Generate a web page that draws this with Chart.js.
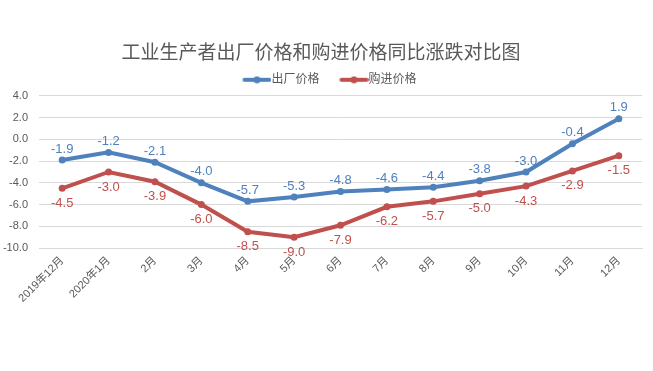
<!DOCTYPE html>
<html>
<head>
<meta charset="utf-8">
<script src="https://cdn.jsdelivr.net/npm/chart.js@4"></script>
<style>
  html, body { margin: 0; padding: 0; background: #fff; }
  #wrap { width: 653px; height: 371px; }
</style>
</head>
<body>
<div id="wrap"><canvas id="chart"></canvas></div>
<script>
const months = ['2019年12月', '2020年1月', '2月', '3月', '4月', '5月', '6月', '7月', '8月', '9月', '10月', '11月', '12月'];
const factoryPrice = [-1.9, -1.2, -2.1, -4.0, -5.7, -5.3, -4.8, -4.6, -4.4, -3.8, -3.0, -0.4, 1.9];
const purchasePrice = [-4.5, -3.0, -3.9, -6.0, -8.5, -9.0, -7.9, -6.2, -5.7, -5.0, -4.3, -2.9, -1.5];

const FONT = "'Liberation Sans', 'Noto Sans CJK SC', sans-serif";
const BLUE = '#4F81BD';
const RED = '#C0504D';

// legend swatch: line+dot pushed to the right so it sits against the text,
// the empty left part gives the gap between the two legend items
function swatch(color) {
  const c = document.createElement('canvas');
  c.width = 52; c.height = 8;
  const g = c.getContext('2d');
  g.strokeStyle = color; g.lineWidth = 4; g.lineCap = 'round';
  g.beginPath(); g.moveTo(25, 4); g.lineTo(50, 4); g.stroke();
  g.fillStyle = color;
  g.beginPath(); g.arc(37.5, 4, 3.5, 0, Math.PI * 2); g.fill();
  return c;
}

const valueLabels = {
  id: 'valueLabels',
  afterDatasetsDraw(chart) {
    const ctx = chart.ctx;
    ctx.save();
    ctx.font = '13px ' + FONT;
    ctx.textAlign = 'center';
    ctx.textBaseline = 'middle';
    chart.data.datasets.forEach((ds, i) => {
      const meta = chart.getDatasetMeta(i);
      ctx.fillStyle = ds.borderColor;
      meta.data.forEach((pt, j) => {
        const dy = i === 0 ? -11 : 15;
        ctx.fillText(ds.data[j].toFixed(1), pt.x, pt.y + dy);
      });
    });
    ctx.restore();
  }
};

new Chart(document.getElementById('chart'), {
  type: 'line',
  data: {
    labels: months,
    datasets: [
      {
        label: '出厂价格',
        data: factoryPrice,
        borderColor: BLUE,
        backgroundColor: BLUE,
        borderWidth: 4,
        pointRadius: 3.5,
        pointBorderWidth: 0,
        pointHoverRadius: 3.5,
        pointStyle: 'circle',
        tension: 0
      },
      {
        label: '购进价格',
        data: purchasePrice,
        borderColor: RED,
        backgroundColor: RED,
        borderWidth: 4,
        pointRadius: 3.5,
        pointBorderWidth: 0,
        pointHoverRadius: 3.5,
        pointStyle: 'circle',
        tension: 0
      }
    ]
  },
  options: {
    responsive: true,
    maintainAspectRatio: false,
    animation: false,
    layout: { padding: { left: 0, right: 11, top: 28, bottom: 60 } },
    plugins: {
      title: {
        display: true,
        text: '工业生产者出厂价格和购进价格同比涨跌对比图',
        color: '#595959',
        font: { family: FONT, size: 19, weight: 'normal' },
        padding: { top: 14, bottom: 6 }
      },
      legend: {
        labels: {
          color: '#595959',
          font: { family: FONT, size: 12 },
          usePointStyle: true,
          pointStyleWidth: 40,
          boxHeight: 8,
          padding: 3,
          generateLabels(chart) {
            return chart.data.datasets.map((ds, i) => ({
              text: ds.label,
              fillStyle: ds.borderColor,
              strokeStyle: ds.borderColor,
              fontColor: '#595959',
              pointStyle: swatch(ds.borderColor),
              datasetIndex: i,
              hidden: false,
              lineWidth: 0
            }));
          }
        }
      },
      tooltip: { enabled: false }
    },
    scales: {
      x: {
        offset: true,
        grid: { display: false, drawTicks: false },
        border: { color: '#D9D9D9' },
        ticks: {
          color: '#595959',
          font: { family: FONT, size: 11 },
          minRotation: 45,
          maxRotation: 45,
          autoSkip: false,
          padding: 6
        },
        afterFit(scale) {
          // the rotated first label has room; don't let it push the plot right
          scale.paddingLeft = 0;
        }
      },
      y: {
        min: -10,
        max: 4,
        grid: { color: '#D9D9D9', drawTicks: false },
        border: { display: false },
        ticks: {
          stepSize: 2,
          color: '#595959',
          font: { family: FONT, size: 11 },
          padding: 11,
          callback: v => v.toFixed(1)
        },
        afterFit(scale) {
          scale.width = 39;
        }
      }
    }
  },
  plugins: [valueLabels]
});
</script>
</body>
</html>
